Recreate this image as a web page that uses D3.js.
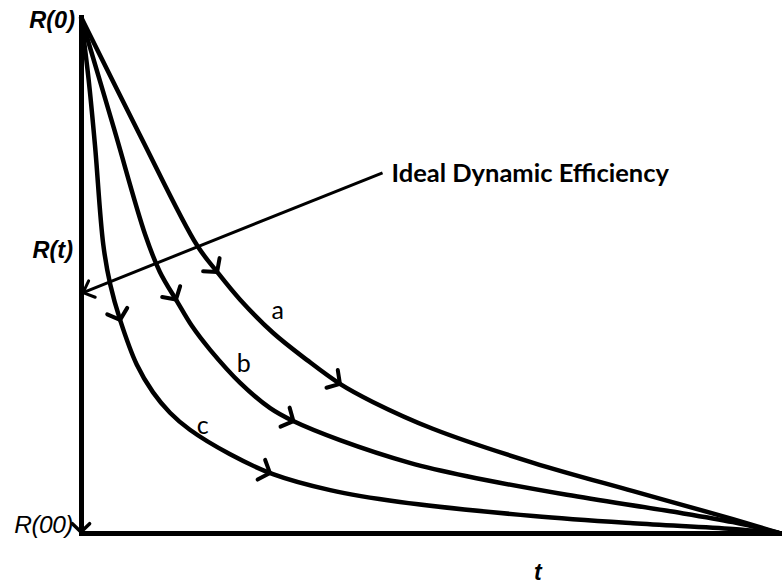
<!DOCTYPE html>
<html>
<head>
<meta charset="utf-8">
<script src="https://cdn.jsdelivr.net/npm/d3@7"></script>
<style>
  body { margin: 0; background: #fff; }
  svg { display: block; }
</style>
</head>
<body>
<div id="chart"></div>
<script>
// curves: [t, R] with t 0..100 and R 0..100
const curveA = [[0, 100], [8.45, 77.1], [16.6, 55.8], [19.5, 50.6], [22.8, 45.2], [27.5, 38.8],
  [32.4, 33.5], [37.1, 28.9], [41.8, 25.4], [50.4, 20.2], [64.8, 13.6], [79.1, 8.1], [93.4, 2.7], [100, 0]];
const curveB = [[0, 100], [4.7, 78.5], [9.2, 57.8], [11.3, 50.6], [13.8, 44.8], [15.9, 40.1],
  [18.5, 35.5], [22.8, 29.1], [27.1, 24.2], [30.4, 21.7], [37.1, 18.0], [47.1, 13.6], [55.3, 11.0],
  [69.6, 7.4], [84.0, 4.3], [93.4, 2.1], [100, 0]];
const curveC = [[0, 100], [1.1, 87.8], [2.0, 75.2], [3.2, 55.8], [4.2, 48.1], [5.6, 41.3],
  [8.0, 32.6], [10.3, 27.3], [12.75, 23.3], [15.6, 20.0], [21.3, 15.3], [27.5, 11.4], [35.7, 8.3],
  [45.7, 6.0], [64.8, 3.3], [79.1, 1.9], [93.4, 0.8], [100, 0]];

const curveNames = ["a", "b", "c"];
// where the direction arrows sit on each curve
const arrowsA = [[19.5, 50.6], [37.1, 28.9]];
const arrowsB = [[13.5, 45.2], [30.4, 21.7]];
const arrowsC = [[5.6, 41.3], [27.0, 11.4]];
// where the curve letters sit
const letterPos = [[27.3, 41.4], [22.3, 31.2], [16.6, 19.2]];

// pointer from the caption to R(t)
const idealLine = [[43.2, 69.8], [0.3, 46.6]];
const idealText = "Ideal Dynamic Efficiency";

const width = 782, height = 588;

const svg = d3.select("#chart").append("svg")
    .attr("width", width)
    .attr("height", height);

const xScale = d3.scaleLinear().domain([0, 100]).range([81, 779]);
const yScale = d3.scaleLinear().domain([0, 100]).range([533, 17]);

// axes without ticks, just the thick lines
const xAxis = svg.append("g")
    .attr("transform", "translate(0," + yScale(0) + ")")
    .call(d3.axisBottom(xScale).ticks(0).tickSizeOuter(0));
const yAxis = svg.append("g")
    .attr("transform", "translate(" + xScale(0) + ",0)")
    .call(d3.axisLeft(yScale).ticks(0).tickSizeOuter(0));

[xAxis, yAxis].forEach(a => {
  a.select(".domain")
    .attr("stroke", "#000")
    .attr("stroke-width", 5)
    .attr("stroke-linecap", "square");
});

// draws an open chevron with its tip at (x, y) pointing along angle
function chevron(x, y, angle, len, spread, sw) {
  const back = angle + Math.PI;
  const p1 = [x + len * Math.cos(back - spread), y + len * Math.sin(back - spread)];
  const p2 = [x + len * Math.cos(back + spread), y + len * Math.sin(back + spread)];
  svg.append("path")
    .attr("d", "M" + p1 + "L" + x + "," + y + "L" + p2)
    .attr("fill", "none")
    .attr("stroke", "#000")
    .attr("stroke-width", sw)
    .attr("stroke-linecap", "round")
    .attr("stroke-linejoin", "round");
}

// arrow at the bottom of the y axis
chevron(xScale(0), yScale(0) - 1, Math.PI / 2, 12, 0.8, 3.5);

const line = d3.line()
    .x(d => xScale(d[0]))
    .y(d => yScale(d[1]))
    .curve(d3.curveCatmullRom.alpha(0.5));

const curves = [curveA, curveB, curveC];
const arrows = [arrowsA, arrowsB, arrowsC];

curves.forEach((c, i) => {
  const path = svg.append("path")
    .datum(c)
    .attr("d", line)
    .attr("fill", "none")
    .attr("stroke", "#000")
    .attr("stroke-width", 4.5)
    .attr("stroke-linejoin", "round");

  const node = path.node();
  const total = node.getTotalLength();

  arrows[i].forEach(a => {
    const tx = xScale(a[0]), ty = yScale(a[1]);
    let best = 0, bestD = Infinity;
    for (let l = 0; l <= total; l += 0.5) {
      const p = node.getPointAtLength(l);
      const dd = (p.x - tx) ** 2 + (p.y - ty) ** 2;
      if (dd < bestD) { bestD = dd; best = l; }
    }
    const p0 = node.getPointAtLength(Math.max(0, best - 4));
    const p1 = node.getPointAtLength(Math.min(total, best + 4));
    const tip = node.getPointAtLength(best);
    chevron(tip.x, tip.y, Math.atan2(p1.y - p0.y, p1.x - p0.x), 14, 0.85, 4);
  });
});

// curve letters
svg.selectAll(".letter")
  .data(curveNames)
  .enter()
  .append("text")
    .attr("class", "letter")
    .attr("x", (d, i) => xScale(letterPos[i][0]))
    .attr("y", (d, i) => yScale(letterPos[i][1]))
    .attr("font-family", "Lato, 'Open Sans', sans-serif")
    .attr("font-size", 25)
    .attr("fill", "#000")
    .text(d => d);

// ideal dynamic efficiency pointer
svg.append("line")
    .attr("x1", xScale(idealLine[0][0]))
    .attr("y1", yScale(idealLine[0][1]))
    .attr("x2", xScale(idealLine[1][0]))
    .attr("y2", yScale(idealLine[1][1]))
    .attr("stroke", "#000")
    .attr("stroke-width", 3);

chevron(xScale(idealLine[1][0]), yScale(idealLine[1][1]),
  Math.atan2(yScale(idealLine[1][1]) - yScale(idealLine[0][1]),
             xScale(idealLine[1][0]) - xScale(idealLine[0][0])), 13, 0.75, 3);

svg.append("text")
    .attr("x", xScale(idealLine[0][0]) + 9)
    .attr("y", 182)
    .attr("font-family", "Lato, 'Open Sans', sans-serif")
    .attr("font-weight", "bold")
    .attr("font-size", 25.5)
    .attr("fill", "#000")
    .text(idealText);

// axis labels
const axisFont = "'Liberation Sans', Arial, sans-serif";
svg.append("text")
    .attr("x", 75).attr("y", 28)
    .attr("text-anchor", "end")
    .attr("font-family", axisFont)
    .attr("font-weight", "bold")
    .attr("font-style", "italic")
    .attr("font-size", 23.5)
    .text("R(0)");

svg.append("text")
    .attr("x", 73).attr("y", 258)
    .attr("text-anchor", "end")
    .attr("font-family", axisFont)
    .attr("font-weight", "bold")
    .attr("font-style", "italic")
    .attr("font-size", 23.5)
    .text("R(t)");

svg.append("text")
    .attr("x", 73).attr("y", 533)
    .attr("text-anchor", "end")
    .attr("font-family", axisFont)
    .attr("font-style", "italic")
    .attr("font-size", 24.5)
    .attr("letter-spacing", -0.5)
    .text("R(00)");

svg.append("text")
    .attr("x", 534).attr("y", 580)
    .attr("font-family", axisFont)
    .attr("font-weight", "bold")
    .attr("font-style", "italic")
    .attr("font-size", 23)
    .text("t");
</script>
</body>
</html>
